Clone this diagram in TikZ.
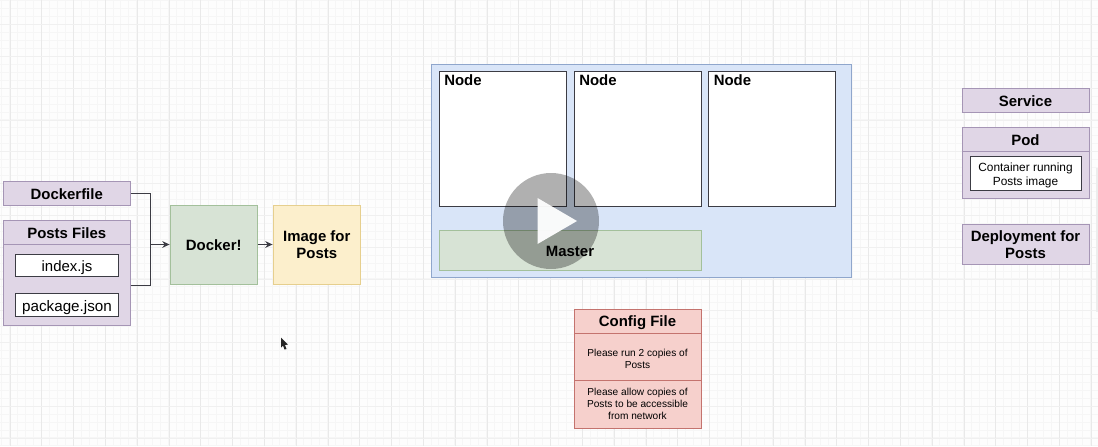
\documentclass[tikz,border=0pt]{standalone}
\usepackage{fontspec}
\setmainfont{Liberation Sans}
\usetikzlibrary{arrows.meta}
\definecolor{paper}{HTML}{FDFDFD}
\definecolor{lanefill}{HTML}{E0D6E6}
\definecolor{laneline}{HTML}{A595B5}
\definecolor{dockerfill}{HTML}{D7E3D5}
\definecolor{dockerline}{HTML}{A3C09B}
\definecolor{imagefill}{HTML}{FCEFCC}
\definecolor{imageline}{HTML}{E6CF8E}
\definecolor{clusterfill}{HTML}{D9E5F8}
\definecolor{clusterline}{HTML}{8FA6CC}
\definecolor{configfill}{HTML}{F6D0CC}
\definecolor{configline}{HTML}{C4736E}
\definecolor{inkline}{HTML}{3C3C44}
\tikzset{
  pxsize/.style 2 args={minimum width=#1*0.75pt, minimum height=#2*0.75pt},
  nudge/.style={execute at begin node={\rule{0pt}{#1}}},
  plainbox/.style={draw, inner sep=0pt, align=center, line width=0.6pt},
  headfont/.style={font=\bfseries\fontsize{11.2}{13.2}\selectfont},
  lane/.style={plainbox, fill=lanefill, draw=laneline, headfont, nudge=9.4pt},
  inbox/.style={plainbox, fill=white, draw=inkline},
  docker/.style={plainbox, fill=dockerfill, draw=dockerline, headfont, nudge=9.4pt},
  image/.style={plainbox, fill=imagefill, draw=imageline, headfont, nudge=9.4pt},
  config/.style={plainbox, fill=configfill, draw=configline},
  title/.style={inner sep=0pt, headfont},
  small/.style={inner sep=0pt, align=center, font=\fontsize{7.6}{9}\selectfont},
  wire/.style={draw=inkline, line width=0.7pt}
}
\begin{document}
\begin{tikzpicture}[x=0.75pt, y=-0.75pt, >={Stealth[length=5.5pt,width=5pt]}]
        \useasboundingbox (0,0) rectangle (1098,446);
        \fill[paper] (0,0) rectangle (1098,446);

        % Grid
        \foreach \gx in {1.5,9.45,...,1098} \draw[gray!7, line width=0.4pt] (\gx,0) -- (\gx,446);
        \foreach \gy in {0.5,8.45,...,446} \draw[gray!7, line width=0.4pt] (0,\gy) -- (1098,\gy);
        \foreach \gx in {9.8,41.6,...,1098} \draw[gray!17, line width=0.4pt] (\gx,0) -- (\gx,446);
        \foreach \gy in {24.4,56.2,...,446} \draw[gray!12, line width=0.4pt] (0,\gy) -- (1098,\gy);

        % Build side
        \node[lane, pxsize={127.5}{23.5}] (dockerfile) at (66.75,193.25) {Dockerfile};
        \node[lane, pxsize={127.5}{24}] (poststitle) at (66.75,232.5) {Posts Files};
        \node[lane, pxsize={127.5}{80.5}] (postsbody) at (66.75,284.75) {};
        \node[inbox, pxsize={103}{22}, font=\fontsize{11.2}{13}\selectfont, nudge=12pt] (indexjs) at (67,265) {index.js};
        \node[inbox, pxsize={103}{22.5}, font=\fontsize{11.4}{13}\selectfont, nudge=12pt] (packagejson) at (67,304.75) {package.json};
        \node[docker, pxsize={87.5}{79}] (dockerrun) at (213.75,244.5) {Docker!};
        \node[image, pxsize={87.5}{79}] (postsimage) at (316.75,244.5) {Image for\\Posts};
        \coordinate (postsout) at (130.5,285.5);
        \coordinate (join) at (150.5,244.5);
        \draw[wire] (dockerfile.east) -| (join);
        \draw[wire] (postsout) -| (join);
        \draw[wire, ->] (join) -- (dockerrun.west);
        \draw[wire, ->] (dockerrun.east) -- (postsimage.west);

        % Cluster
        \node[plainbox, fill=clusterfill, draw=clusterline, pxsize={420}{213}] (cluster) at (641.5,171) {};
        \node[inbox, pxsize={127.5}{135}] (nodeone) at (502.75,139) {};
        \node[inbox, pxsize={127.5}{135}] (nodetwo) at (637.75,139) {};
        \node[inbox, pxsize={127}{135}] (nodethree) at (772,139) {};
        \node[title, anchor=west] (nodeonetext) at (444,80.5) {Node};
        \node[title, anchor=west] (nodetwotext) at (579,80.5) {Node};
        \node[title, anchor=west] (nodethreetext) at (713.5,80.5) {Node};
        \node[docker, pxsize={262}{40}] (master) at (570,250) {};
        \node[title] (mastertext) at (570,251) {Master};

        % Config file
        \node[config, pxsize={127}{24}, headfont, nudge=10.4pt] (configtitle) at (637.5,321.5) {Config File};
        \node[config, pxsize={127}{47}] (configrun) at (637.5,357) {};
        \node[small] (configruntext) at (637.5,358.5) {Please run 2 copies of\\Posts};
        \node[config, pxsize={127}{48}] (confignet) at (637.5,404.5) {};
        \node[small] (confignettext) at (637.5,403.8) {Please allow copies of\\Posts to be accessible\\from network};

        % Objects on the right
        \node[lane, pxsize={127}{24}] (service) at (1025.5,100) {Service};
        \node[lane, pxsize={127}{24}] (podtitle) at (1025.5,139) {Pod};
        \node[lane, pxsize={127}{47.5}] (podbody) at (1025.5,174.75) {};
        \node[inbox, pxsize={111}{34.5}] (container) at (1025.5,173.25) {};
        \node[small, font=\fontsize{8.9}{10.9}\selectfont] (containertext) at (1025.5,175.6) {Container running\\Posts image};
        \node[lane, pxsize={127}{40}] (deployment) at (1025.5,244.5) {Deployment for\\Posts};

        % Video overlay
        \fill[black, opacity=0.31] (551,221) circle (48);
        \fill[white, opacity=0.95] (537.5,198) -- (577,221) -- (537.5,244) -- cycle;
        \fill[black!85] (281,337.5) -- (288,344.5) -- (285,345) -- (286.5,349) -- (284.5,349.5) -- (283,345.5) -- (281,347.5) -- cycle;
        \fill[gray!14] (1096,168) rectangle (1098,312);
    \end{tikzpicture}
\end{document}
